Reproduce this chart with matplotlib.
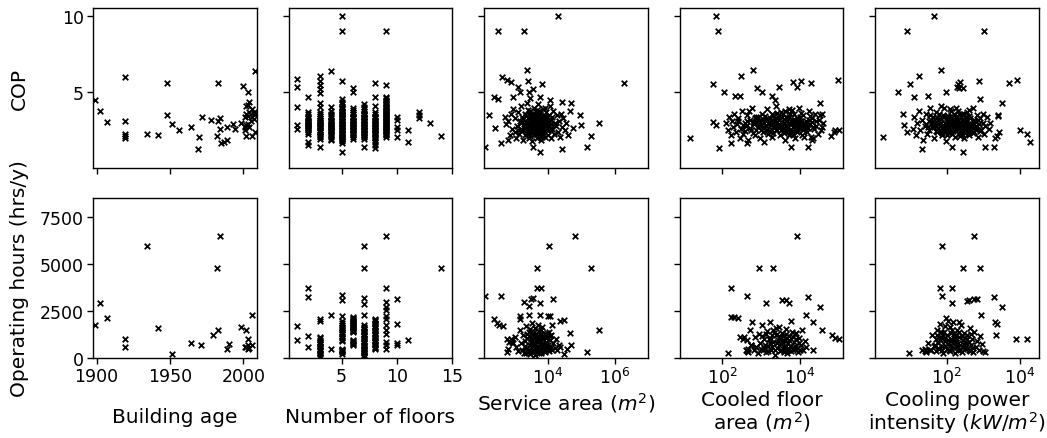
import numpy as np
import matplotlib
matplotlib.use("Agg")
import matplotlib.pyplot as plt
from matplotlib.ticker import FixedLocator, NullLocator, LogFormatterMathtext

# ---------------- data ----------------
# Panel 1: building age
age_cop_year = [1899, 1902, 1907, 1919, 1919, 1919, 1919, 1919, 1934, 1942, 1948, 1948, 1951, 1956,
                1964, 1969, 1970, 1972, 1978, 1982, 1983, 1983, 1984, 1984, 1985, 1987, 1989, 1989,
                1993, 1994, 1998, 2000, 2001, 2002, 2003, 2003, 2002, 2003, 2002, 2003, 2004, 2004,
                2006, 2006, 2006, 2007, 2007, 2007, 2008, 2008, 2008, 2002, 2004, 2005, 2001, 2001]
age_cop_val = [4.52, 3.8, 3.04, 6.02, 3.1, 2.28, 2.13, 2.0, 2.28, 2.22, 5.6, 3.52, 2.93, 2.54,
               2.76, 1.3, 2.1, 3.37, 3.2, 2.17, 5.6, 3.15, 3.3, 2.6, 1.7, 1.74, 1.85, 2.7,
               2.93, 2.57, 2.98, 5.4, 2.5, 2.17, 5.04, 2.93, 4.09, 4.17, 3.59, 3.43, 4.35, 3.7,
               3.9, 3.37, 2.17, 3.59, 3.26, 3.7, 3.6, 6.4, 2.4, 2.83, 2.74, 3.15, 3.37, 2.7]
age_hrs_year = [1899, 1902, 1907, 1919, 1919, 1934, 1942, 1951, 1964, 1971, 1979, 1982, 1983, 1984,
                1989, 1990, 1998, 2002, 2003, 2002, 2003, 2003, 2004, 2006, 2006, 2001]
age_hrs_val = [1773, 2925, 2145, 1028, 585, 5957, 1613, 195, 815, 674, 1205, 4787, 1471, 6489,
               496, 762, 1649, 1471, 1028, 585, 496, 674, 532, 2305, 674, 585]

# Panel 2: number of floors
floor_levels_cop = [1, 2, 3, 4, 5, 6, 7, 8, 9, 10, 11, 12, 13, 14]
cop_by_floor = [
    [5.87, 5.33, 4.02, 2.87, 2.61],
    [4.72, 3.7, 3.55, 3.4, 3.3, 3.2, 3.1, 3.0, 2.9, 2.8, 2.7, 2.6, 2.5, 2.4, 2.28, 1.78, 1.52,
     3.05, 2.85, 2.65],
    [6.09, 5.76, 5.48, 5.22, 4.96, 4.3, 4.02, 3.7, 3.55, 3.45, 3.3, 3.2, 3.1, 3.0, 2.9, 2.8, 2.7,
     2.55, 2.4, 2.3, 2.15, 2.05, 1.96, 1.41, 3.05, 2.85, 2.65, 2.45],
    [6.41, 4.02, 3.75, 3.6, 3.45, 3.35, 3.2, 3.1, 3.0, 2.9, 2.8, 2.7, 2.6, 2.5, 2.4, 2.3, 2.2, 2.1,
     1.96, 1.85, 3.05, 2.85, 2.65, 2.45],
    [10.0, 9.02, 5.76, 4.57, 4.35, 4.2, 4.05, 3.9, 3.8, 3.7, 3.6, 3.5, 3.4, 3.3, 3.2, 3.1, 3.0, 2.9,
     2.8, 2.7, 2.6, 2.5, 2.4, 2.3, 2.2, 2.1, 2.0, 1.9, 1.8, 1.7, 1.09,
     3.95, 3.75, 3.55, 3.35, 3.15, 2.95, 2.75, 2.55, 2.35, 2.15, 1.95],
    [5.26, 5.04, 4.0, 3.85, 3.7, 3.55, 3.4, 3.3, 3.2, 3.1, 3.0, 2.9, 2.8, 2.7, 2.6, 2.5, 2.4, 2.3,
     2.2, 2.1, 1.96, 3.35, 3.15, 2.95, 2.75, 2.55, 2.35],
    [4.2, 4.05, 3.9, 3.75, 3.6, 3.5, 3.4, 3.3, 3.2, 3.1, 3.0, 2.9, 2.8, 2.7, 2.6, 2.5, 2.4, 2.3,
     2.2, 2.1, 1.96, 1.41, 3.55, 3.35, 3.15, 2.95, 2.75, 2.55, 2.35, 2.15],
    [5.61, 4.72, 4.13, 3.7, 3.55, 3.4, 3.3, 3.2, 3.1, 3.0, 2.9, 2.8, 2.7, 2.6, 2.5, 2.4, 2.3, 2.2,
     2.1, 2.0, 1.85, 1.75, 1.52, 1.35, 3.35, 3.15, 2.95, 2.75, 2.55, 2.35],
    [9.02, 5.5, 4.7, 4.6, 4.5, 4.4, 4.3, 4.2, 4.1, 4.0, 3.9, 3.8, 3.7, 3.6, 3.5, 3.4, 3.3, 3.2, 3.1,
     3.0, 2.9, 2.8, 2.7, 2.6, 2.5, 2.4, 2.3, 2.2, 2.1,
     4.05, 3.85, 3.65, 3.45, 3.25, 3.05, 2.85, 2.65, 2.45, 2.25],
    [3.37, 3.2, 2.72, 2.5, 2.07],
    [2.5, 1.74],
    [3.7, 3.48, 3.3],
    [2.98],
    [2.17],
]
floor_levels_hrs = [1, 2, 3, 4, 5, 6, 7, 8, 9, 10, 11, 14]
hrs_by_floor = [
    [1684, 975],
    [3723, 3245, 1170, 585],
    [2092, 1950, 1117, 950, 800, 650, 500, 350, 200, 53, 1050, 875, 725, 575, 425, 275, 125],
    [2305, 496],
    [3333, 3103, 2216, 1950, 1750, 1600, 1400, 1250, 1050, 900, 500, 400, 300, 230,
     1850, 1650, 1500, 1325, 1150, 975, 450, 350],
    [2181, 2050, 1950, 1850, 1750, 1650, 1550, 1450, 1383, 940, 850, 780, 674,
     2120, 2000, 1900, 1800, 1700, 1600, 1500, 1420, 900, 720],
    [5957, 4787, 3191, 2890, 2305, 1737, 1600, 1450, 1300, 1150, 1000, 850, 700, 550, 420, 300, 180, 70,
     1670, 1525, 1375, 1225, 1075, 925, 775, 625, 480, 360, 240, 120],
    [2092, 1950, 1800, 1650, 1500, 1350, 1200, 1050, 900, 750, 600, 496,
     2020, 1875, 1725, 1575, 1425, 1275, 1125, 975, 825, 675, 550],
    [6489, 3723, 2979, 2713, 2535, 2216, 2092, 1737, 1471, 1300, 851, 674, 496],
    [3120, 1826, 815, 709],
    [940],
    [4787],
]

# Panel 3: service area (log10 of m2) vs COP / hours
service_cop_pts = [
    (2.11, 1.41), (2.21, 3.54), (2.38, 4.72), (2.48, 4.57), (2.51, 9.02), (3.29, 9.02), (4.30, 10.0),
    (2.61, 6.02), (2.76, 5.83), (2.88, 5.65), (3.09, 5.33), (3.15, 5.04), (3.37, 6.46), (3.39, 5.76),
    (3.55, 5.22), (3.82, 5.54), (3.42, 5.0), (2.96, 4.72), (3.45, 4.65), (3.77, 4.67), (4.05, 4.52),
    (4.42, 4.35), (4.70, 4.3), (6.28, 5.61), (5.53, 3.0), (5.30, 2.17), (5.16, 1.41), (4.43, 1.3),
    (3.77, 1.09), (3.55, 1.41), (2.58, 1.7), (2.41, 2.65), (2.81, 1.85), (4.95, 3.48), (4.99, 2.87),
    (4.75, 2.67),
    (2.70, 3.4), (2.75, 2.9), (2.80, 3.1), (2.85, 2.2), (2.90, 3.6), (2.92, 2.6), (2.95, 3.9),
    (3.00, 2.4), (3.02, 3.3), (3.05, 2.0), (3.08, 2.8), (3.10, 3.7), (3.12, 2.3), (3.15, 3.1),
    (3.18, 4.1), (3.20, 2.6), (3.22, 3.4), (3.25, 1.9), (3.27, 2.9), (3.30, 3.6), (3.32, 2.2),
    (3.34, 3.0), (3.36, 4.3), (3.38, 2.5), (3.40, 3.3), (3.42, 2.0), (3.44, 2.8), (3.46, 3.8),
    (3.48, 2.4), (3.50, 3.1), (3.52, 1.8), (3.53, 3.5), (3.55, 2.7), (3.57, 4.0), (3.58, 2.2),
    (3.60, 3.2), (3.62, 2.9), (3.63, 3.7), (3.65, 2.5), (3.66, 3.4), (3.68, 2.0), (3.70, 3.0),
    (3.71, 4.2), (3.72, 2.7), (3.74, 3.3), (3.75, 2.3), (3.77, 3.6), (3.78, 2.9), (3.80, 1.9),
    (3.81, 3.1), (3.83, 2.6), (3.84, 3.9), (3.86, 2.4), (3.88, 3.4), (3.90, 2.8), (3.92, 2.1),
    (3.93, 3.2), (3.95, 3.7), (3.97, 2.5), (3.98, 3.0), (4.00, 2.2), (4.02, 3.5), (4.04, 2.7),
    (4.06, 4.1), (4.08, 2.0), (4.10, 3.2), (4.12, 2.6), (4.15, 3.8), (4.18, 2.3), (4.20, 3.0),
    (4.23, 2.8), (4.26, 3.5), (4.29, 2.4), (4.32, 3.1), (4.35, 2.1), (4.38, 3.6), (4.42, 2.7),
    (4.46, 3.3), (4.50, 2.5), (4.55, 3.0), (4.60, 2.2), (4.65, 3.8), (3.35, 2.65), (3.45, 3.15),
    (3.55, 3.05), (3.65, 2.75), (3.75, 2.85), (3.85, 3.25), (3.95, 2.95), (3.60, 2.45), (3.70, 3.55),
    (3.50, 2.85), (3.80, 2.65), (3.40, 3.85), (3.90, 3.45), (3.30, 2.75), (4.00, 2.85), (3.20, 3.0),
    (4.10, 2.9), (3.10, 2.5), (3.62, 3.3), (3.72, 3.15), (3.58, 2.8), (3.68, 2.35), (3.78, 3.45),
    (3.48, 2.55), (3.88, 2.95), (3.52, 3.35), (3.82, 2.1), (3.42, 2.3), (3.92, 3.95),
    (3.22, 2.45), (3.26, 3.25), (3.31, 2.85), (3.33, 3.45), (3.37, 2.35), (3.39, 3.05), (3.41, 2.75),
    (3.43, 3.55), (3.47, 2.65), (3.49, 3.25), (3.51, 2.95), (3.54, 2.4), (3.56, 3.3), (3.59, 2.6),
    (3.61, 3.55), (3.64, 3.1), (3.67, 2.6), (3.69, 3.25), (3.73, 2.5), (3.76, 3.0), (3.79, 2.4),
    (3.82, 3.35), (3.85, 2.75), (3.87, 3.1), (3.89, 2.5), (3.91, 3.0), (3.94, 2.7), (3.96, 3.35),
    (3.99, 2.55), (4.03, 3.1), (4.07, 2.6), (4.11, 3.4), (3.57, 2.95), (3.63, 2.25), (3.66, 3.85),
    (3.71, 2.9), (3.74, 3.75), (3.46, 2.15), (3.53, 2.6), (3.77, 2.1),
]
service_hrs_pts = [
    (2.11, 3280), (2.58, 3298), (2.38, 2092), (2.46, 1862), (2.54, 1773), (2.64, 1702),
    (2.76, 1000), (2.78, 319), (2.81, 496), (2.83, 860), (2.88, 1000), (2.93, 850), (2.96, 800),
    (3.67, 4787), (3.67, 3723), (3.80, 3723), (4.02, 5957), (4.82, 6489), (5.30, 4787), (4.15, 3120),
    (3.49, 3156), (3.55, 3191), (3.75, 2943), (3.27, 2979), (3.42, 2766), (3.77, 2305), (3.15, 2216),
    (3.17, 2092), (3.42, 2305), (5.53, 1471), (5.16, 319), (4.67, 1330), (4.70, 709), (4.49, 195),
    (4.57, 496), (4.37, 1950), (4.49, 2003), (4.05, 2234), (3.99, 2234), (4.12, 1737),
    (3.00, 1100), (3.05, 600), (3.10, 350), (3.15, 1500), (3.18, 800), (3.22, 450), (3.25, 1200),
    (3.28, 250), (3.30, 900), (3.33, 1700), (3.35, 550), (3.38, 1050), (3.40, 300), (3.42, 1400),
    (3.45, 700), (3.47, 200), (3.50, 1000), (3.52, 1850), (3.54, 450), (3.56, 1250), (3.58, 800),
    (3.60, 150), (3.62, 1600), (3.64, 600), (3.66, 1100), (3.68, 350), (3.70, 900), (3.72, 1450),
    (3.74, 500), (3.76, 1200), (3.78, 250), (3.80, 750), (3.82, 1650), (3.84, 400), (3.86, 1000),
    (3.88, 600), (3.90, 1300), (3.92, 300), (3.94, 850), (3.96, 1150), (3.98, 500), (4.00, 700),
    (4.02, 1400), (4.04, 350), (4.06, 950), (4.08, 600), (4.10, 1200), (4.13, 450), (4.16, 800),
    (4.20, 550), (4.24, 1000), (4.28, 400), (4.32, 700), (4.36, 600), (3.55, 650), (3.65, 950),
    (3.75, 380), (3.85, 820), (3.45, 1550), (3.95, 1050), (3.35, 250), (3.70, 1780), (3.60, 1050),
    (3.80, 1300), (3.50, 480),
    (3.31, 650), (3.37, 1250), (3.43, 420), (3.49, 850), (3.53, 1350), (3.57, 300), (3.61, 750),
    (3.63, 1250), (3.67, 520), (3.71, 1150), (3.73, 280), (3.77, 900), (3.79, 1500), (3.83, 620),
    (3.87, 350), (3.89, 1150), (3.93, 700), (3.97, 1350), (4.01, 480), (4.05, 1150), (3.59, 1400),
    (3.69, 650), (3.81, 1050), (3.91, 500), (3.47, 1150),
]

# Panel 4: cooled floor area (log10 of m2)
cooled_cop_pts = [
    (1.17, 2.02), (1.84, 10.0), (1.91, 9.02), (1.76, 5.54), (2.04, 5.04), (1.93, 1.35), (1.78, 3.04),
    (1.86, 2.83), (2.23, 1.7), (2.49, 6.04), (2.79, 6.46), (2.34, 4.74), (2.47, 4.74), (2.90, 5.26),
    (3.03, 5.04), (3.47, 5.35), (3.83, 5.65), (4.02, 5.76), (3.93, 5.33), (4.28, 5.61), (4.97, 5.83),
    (3.29, 4.74), (3.35, 4.52), (4.52, 4.3), (4.56, 3.59), (4.56, 2.72), (4.34, 2.0), (4.30, 1.89),
    (4.20, 1.41), (3.78, 1.41), (3.07, 1.74), (2.64, 1.7), (4.79, 2.13), (4.86, 2.39), (4.91, 2.5),
    (4.99, 2.54),
    (2.10, 3.0), (2.15, 2.5), (2.18, 3.4), (2.22, 2.2), (2.25, 3.1), (2.28, 2.7), (2.32, 3.6),
    (2.35, 2.4), (2.38, 2.9), (2.42, 3.3), (2.45, 2.0), (2.48, 2.6), (2.52, 3.8), (2.55, 2.3),
    (2.58, 3.0), (2.62, 2.8), (2.65, 3.5), (2.68, 1.9), (2.72, 3.2), (2.75, 2.5), (2.78, 4.0),
    (2.82, 2.9), (2.85, 2.2), (2.88, 3.4), (2.92, 2.7), (2.95, 3.1), (2.98, 2.0), (3.02, 3.6),
    (3.05, 2.4), (3.08, 3.0), (3.12, 2.8), (3.15, 3.9), (3.18, 2.3), (3.22, 3.3), (3.25, 2.6),
    (3.28, 2.1), (3.32, 3.5), (3.35, 2.9), (3.38, 4.1), (3.42, 2.5), (3.45, 3.2), (3.48, 2.2),
    (3.52, 3.7), (3.55, 2.8), (3.58, 3.0), (3.62, 1.9), (3.65, 3.4), (3.68, 2.6), (3.72, 3.9),
    (3.75, 2.3), (3.78, 3.1), (3.82, 2.7), (3.85, 3.6), (3.88, 2.0), (3.92, 3.3), (3.95, 2.5),
    (3.98, 4.0), (4.02, 2.9), (4.05, 2.2), (4.08, 3.5), (4.12, 2.7), (4.15, 3.1), (4.18, 2.4),
    (4.22, 3.8), (4.25, 2.9), (4.28, 2.1), (4.32, 3.3), (4.35, 2.6), (4.38, 3.6), (4.42, 2.8),
    (4.45, 2.3), (4.48, 3.2), (4.52, 3.5), (4.55, 2.5), (4.58, 3.0), (2.40, 3.15), (2.60, 2.45),
    (2.70, 3.75), (2.80, 2.35), (2.90, 3.05), (3.00, 2.55), (3.10, 3.45), (3.20, 2.95), (3.30, 2.35),
    (3.40, 3.65), (3.50, 2.75), (3.60, 3.25), (3.70, 2.45), (3.80, 3.85), (3.90, 2.85), (4.00, 3.35),
    (4.10, 2.05), (4.20, 2.65), (4.30, 3.05), (3.25, 3.1), (3.35, 2.7), (3.45, 2.95), (3.55, 3.4),
    (3.65, 2.85), (3.75, 3.55), (3.85, 2.95), (3.95, 3.15), (4.05, 2.75), (3.15, 2.55), (3.05, 3.25),
    (2.95, 2.85), (2.85, 3.3), (3.62, 2.45), (3.72, 3.0), (3.82, 2.25), (3.92, 2.95), (4.02, 3.65),
    (3.48, 3.45), (3.58, 2.35), (3.68, 3.15), (3.78, 2.55), (3.88, 3.2), (3.98, 2.65), (3.38, 2.85),
    (3.28, 3.55), (3.18, 3.0), (4.15, 2.85), (4.25, 3.45), (4.40, 3.1), (3.42, 3.05), (3.52, 2.5),
    (3.62, 3.8), (3.72, 2.2), (3.92, 2.4),
    (2.55, 2.85), (2.63, 3.15), (2.71, 2.65), (2.79, 3.05), (2.87, 2.55), (2.93, 3.35), (3.01, 2.85),
    (3.09, 2.65), (3.13, 3.25), (3.21, 2.45), (3.27, 2.85), (3.33, 3.15), (3.39, 2.55), (3.43, 3.35),
    (3.47, 2.75), (3.53, 3.05), (3.57, 2.6), (3.63, 3.1), (3.67, 2.7), (3.71, 3.35), (3.77, 2.9),
    (3.81, 3.2), (3.87, 2.6), (3.91, 3.0), (3.97, 2.85), (4.03, 3.15), (4.07, 2.5), (4.13, 3.0),
    (4.19, 2.75), (4.23, 3.2), (3.37, 3.25), (3.57, 3.55), (3.83, 2.45), (3.05, 2.75), (2.83, 3.0),
    (4.33, 2.75),
]
cooled_hrs_pts = [
    (2.15, 266), (2.23, 3723), (2.23, 2181), (2.32, 2181), (2.41, 2127), (2.64, 3298), (2.95, 4787),
    (3.31, 4787), (3.93, 6489), (3.12, 2943), (3.55, 3103), (3.64, 3103), (3.72, 2925), (4.20, 3245),
    (4.52, 2713), (4.16, 2305), (4.34, 1915), (4.56, 1471), (4.82, 1206), (4.91, 1064), (4.99, 993),
    (4.34, 443), (2.45, 1117), (2.53, 993), (2.57, 1117), (2.64, 355), (2.66, 460), (2.88, 585),
    (2.75, 674),
    (2.62, 450), (2.65, 950), (2.68, 300), (2.72, 1500), (2.75, 700), (2.78, 1900), (2.82, 400),
    (2.85, 1100), (2.88, 600), (2.92, 250), (2.95, 1300), (2.98, 800), (3.02, 1750), (3.05, 450),
    (3.08, 1000), (3.12, 300), (3.15, 1450), (3.18, 650), (3.22, 1900), (3.25, 400), (3.28, 1200),
    (3.32, 850), (3.35, 150), (3.38, 1600), (3.42, 550), (3.45, 1050), (3.48, 350), (3.52, 750),
    (3.55, 1350), (3.58, 500), (3.62, 900), (3.65, 1550), (3.68, 250), (3.72, 1150), (3.75, 650),
    (3.78, 1950), (3.82, 400), (3.85, 850), (3.88, 1250), (3.92, 550), (3.95, 300), (3.98, 1050),
    (4.02, 700), (4.05, 1500), (4.08, 450), (4.12, 900), (4.15, 600), (3.30, 1500), (3.40, 800),
    (3.50, 1100), (3.60, 300), (3.70, 800), (3.80, 1400), (3.90, 1000), (4.00, 400), (3.10, 700),
    (3.20, 1000), (3.00, 500), (3.45, 1650), (3.65, 650), (3.85, 550),
    (3.03, 1150), (3.09, 550), (3.13, 1250), (3.19, 350), (3.23, 800), (3.29, 600), (3.33, 1350),
    (3.37, 450), (3.41, 1250), (3.47, 700), (3.51, 400), (3.57, 1150), (3.61, 650), (3.63, 1250),
    (3.69, 450), (3.73, 950), (3.77, 350), (3.81, 1100), (3.87, 650), (3.91, 1350), (3.97, 800),
    (3.53, 900), (3.43, 950), (3.67, 1050), (3.27, 1000),
]

# Panel 5: cooling power intensity (log10 of kW/m2)
intensity_cop_pts = [
    (0.27, 2.07), (0.68, 5.04), (0.92, 9.02), (1.67, 10.0), (3.02, 9.02), (1.01, 5.54), (1.24, 6.04),
    (1.12, 4.72), (1.49, 4.74), (1.86, 6.46), (1.99, 5.04), (2.28, 5.35), (2.35, 5.26), (2.46, 5.3),
    (2.32, 5.54), (2.37, 5.65), (2.89, 5.76), (3.70, 5.61), (3.91, 5.83), (3.50, 4.3), (3.41, 3.5),
    (3.41, 3.43), (3.44, 2.39), (3.37, 2.17), (3.32, 2.0), (3.28, 1.41), (3.05, 1.41), (2.46, 1.09),
    (4.00, 2.54), (4.18, 2.28), (4.27, 1.74), (1.33, 1.3), (2.14, 1.41), (0.81, 3.59), (0.85, 2.87),
    (0.92, 2.39), (2.90, 4.57),
    (1.08, 2.6), (1.12, 3.4), (1.16, 2.2), (1.20, 3.0), (1.24, 3.8), (1.28, 2.5), (1.32, 3.2),
    (1.36, 1.9), (1.40, 2.8), (1.44, 3.6), (1.48, 2.3), (1.52, 3.1), (1.56, 4.0), (1.60, 2.7),
    (1.63, 3.4), (1.66, 2.0), (1.69, 2.9), (1.72, 3.7), (1.75, 2.4), (1.78, 3.2), (1.81, 2.8),
    (1.84, 4.1), (1.87, 2.2), (1.90, 3.5), (1.93, 2.6), (1.96, 3.0), (1.99, 1.8), (2.02, 3.3),
    (2.05, 2.7), (2.08, 3.9), (2.11, 2.4), (2.14, 3.1), (2.17, 2.9), (2.20, 3.6), (2.23, 2.1),
    (2.26, 3.4), (2.29, 2.6), (2.32, 3.8), (2.35, 2.3), (2.38, 3.0), (2.41, 2.8), (2.44, 3.5),
    (2.47, 2.0), (2.50, 3.2), (2.53, 2.5), (2.56, 3.7), (2.59, 2.9), (2.62, 2.2), (2.65, 3.3),
    (2.68, 2.7), (2.71, 4.0), (2.74, 2.4), (2.77, 3.1), (2.80, 2.6), (2.83, 3.5), (2.86, 2.1),
    (2.89, 2.9), (2.92, 3.3), (2.95, 2.5), (2.98, 3.0), (3.02, 2.3), (3.06, 2.8), (3.10, 3.4),
    (3.15, 2.6), (3.18, 3.0), (1.50, 2.75), (1.60, 3.05), (1.70, 2.45), (1.80, 3.55), (1.90, 2.85),
    (2.00, 3.15), (2.10, 2.55), (2.20, 3.25), (2.30, 2.95), (2.40, 3.35), (2.50, 2.65), (2.60, 3.45),
    (2.70, 2.85), (2.80, 3.05), (2.90, 2.45), (3.00, 3.6), (1.85, 3.0), (1.95, 2.5), (2.05, 3.45),
    (2.15, 2.25), (2.25, 2.85), (2.35, 3.6), (2.45, 2.45), (2.55, 3.1), (2.65, 2.6), (1.75, 3.3),
    (1.65, 2.7), (1.55, 3.5), (1.45, 2.9), (2.12, 3.75), (2.22, 2.65), (2.32, 3.15), (2.42, 2.25),
    (2.52, 2.95), (2.62, 3.85), (2.72, 2.35), (1.98, 2.75), (2.08, 3.05), (2.18, 2.45), (2.28, 3.45),
    (2.38, 2.7), (2.48, 3.55), (2.58, 2.4), (1.88, 2.35), (1.78, 2.9), (2.02, 2.2), (2.36, 2.15),
    (2.46, 3.0), (2.76, 3.2), (2.16, 3.3), (1.92, 4.0), (2.26, 3.95),
    (1.52, 2.55), (1.58, 3.2), (1.64, 2.85), (1.71, 3.05), (1.77, 2.65), (1.83, 3.25), (1.89, 2.75),
    (1.94, 3.35), (1.97, 2.45), (2.03, 2.95), (2.07, 2.65), (2.13, 2.85), (2.19, 3.1), (2.24, 2.55),
    (2.27, 3.15), (2.31, 2.75), (2.34, 3.0), (2.39, 2.5), (2.43, 3.2), (2.49, 2.8), (2.54, 3.35),
    (2.57, 2.75), (2.63, 3.0), (2.67, 2.45), (2.73, 3.15), (2.79, 2.8), (2.85, 3.2), (2.88, 2.6),
    (2.12, 3.45), (2.21, 2.9), (2.41, 3.6), (2.06, 2.35), (1.86, 2.55), (2.51, 2.35), (2.61, 2.75),
]
intensity_hrs_pts = [
    (0.99, 266), (1.87, 5957), (2.75, 6489), (2.46, 4787), (2.90, 4787), (1.81, 3723), (2.14, 3723),
    (1.87, 3298), (2.14, 2943), (2.57, 3014), (2.60, 3103), (2.75, 3120), (2.84, 3120), (3.28, 3245),
    (3.50, 2713), (2.94, 2305), (3.32, 1915), (3.37, 1826), (3.35, 1206), (3.89, 993), (4.18, 993),
    (3.05, 319), (1.33, 450), (1.40, 380),
    (1.40, 500), (1.45, 300), (1.50, 800), (1.55, 450), (1.60, 1200), (1.65, 650), (1.70, 1000),
    (1.72, 350), (1.75, 1500), (1.78, 800), (1.80, 500), (1.83, 1800), (1.85, 1100), (1.88, 650),
    (1.90, 250), (1.92, 1400), (1.95, 900), (1.98, 2100), (2.00, 500), (2.02, 1200), (2.05, 750),
    (2.08, 1650), (2.10, 350), (2.12, 1000), (2.15, 600), (2.18, 1900), (2.20, 1300), (2.22, 250),
    (2.25, 850), (2.28, 1500), (2.30, 450), (2.33, 1100), (2.36, 700), (2.40, 1750), (2.42, 300),
    (2.45, 950), (2.48, 1350), (2.50, 550), (2.53, 800), (2.56, 1200), (2.60, 400), (2.63, 1600),
    (2.66, 700), (2.70, 1000), (2.73, 300), (2.76, 1400), (2.80, 600), (2.84, 900), (2.88, 450),
    (2.92, 1150), (2.96, 750), (3.00, 350), (1.95, 1700), (2.05, 1950), (2.15, 1500), (2.25, 1050),
    (2.35, 1900), (1.85, 1400), (2.45, 600), (2.55, 1000), (2.65, 350), (1.68, 700), (1.58, 400),
    (2.28, 650),
    (1.73, 1200), (1.77, 550), (1.81, 950), (1.87, 400), (1.91, 1150), (1.97, 650), (2.03, 950),
    (2.07, 400), (2.11, 1350), (2.17, 800), (2.21, 550), (2.27, 1200), (2.31, 800), (2.37, 400),
    (2.41, 1150), (2.47, 750), (2.51, 1050), (2.57, 500), (2.61, 850), (2.67, 1250), (2.71, 550),
    (2.19, 1050), (2.09, 700), (1.93, 1000), (2.35, 1400),
]

xlabels = ["\nBuilding age", "\nNumber of floors", "Service area ($m^2$)",
           "Cooled floor\narea ($m^2$)", "Cooling power\nintensity ($kW/m^2$)"]
ylabels = ["COP", "Operating hours (hrs/y)"]

# ---------------- plotting ----------------
plt.rcParams['font.family'] = ['DejaVu Sans']
fig, axes = plt.subplots(2, 5, figsize=(10.47, 4.39), dpi=100, sharex='col', sharey='row')
fig.subplots_adjust(left=0.0888, right=0.9924, top=0.9795, bottom=0.1822,
                    wspace=0.195, hspace=0.1875)

mk = dict(marker='x', color='black', s=16, linewidths=1.3)

def unzip(pts):
    a = np.array(pts, dtype=float)
    return a[:, 0], a[:, 1]

# column 1
axes[0, 0].scatter(age_cop_year, age_cop_val, **mk)
axes[1, 0].scatter(age_hrs_year, age_hrs_val, **mk)
# column 2
fx = np.concatenate([[f] * len(v) for f, v in zip(floor_levels_cop, cop_by_floor)])
fy = np.concatenate(cop_by_floor)
axes[0, 1].scatter(fx, fy, **mk)
hx = np.concatenate([[f] * len(v) for f, v in zip(floor_levels_hrs, hrs_by_floor)])
hy = np.concatenate(hrs_by_floor)
axes[1, 1].scatter(hx, hy, **mk)
# log columns
for col, (ptop, pbot) in zip([2, 3, 4], [(service_cop_pts, service_hrs_pts),
                                         (cooled_cop_pts, cooled_hrs_pts),
                                         (intensity_cop_pts, intensity_hrs_pts)]):
    x, y = unzip(ptop)
    axes[0, col].scatter(np.power(10.0, x), y, **mk)
    x, y = unzip(pbot)
    axes[1, col].scatter(np.power(10.0, x), y, **mk)

for c in range(2, 5):
    axes[1, c].set_xscale('log')

axes[0, 0].set_ylim(0.05, 10.5)
axes[1, 0].set_ylim(0, 8500)
axes[0, 0].set_yticks([5, 10])
axes[1, 0].set_yticks([0, 2500, 5000, 7500])

axes[1, 0].set_xlim(1897.5, 2009)
axes[1, 0].set_xticks([1900, 1950, 2000])
axes[1, 1].set_xlim(0.2, 15)
axes[1, 1].set_xticks([5, 10, 15])
axes[1, 2].set_xlim(120, 1e7)
axes[1, 3].set_xlim(8.3, 1.3e5)
axes[1, 4].set_xlim(1.15, 3.3e4)
for c, ticks in zip([2, 3, 4], [[1e4, 1e6], [1e2, 1e4], [1e2, 1e4]]):
    axes[1, c].xaxis.set_major_locator(FixedLocator(ticks))
    axes[1, c].xaxis.set_minor_locator(NullLocator())
    axes[1, c].xaxis.set_major_formatter(LogFormatterMathtext())

for ax in axes.flat:
    ax.tick_params(labelsize=12.5, length=4, width=1, pad=2.5)
    for s in ax.spines.values():
        s.set_linewidth(1.0)

for c in range(5):
    axes[1, c].set_xlabel(xlabels[c], fontsize=14.5, linespacing=1.0, labelpad=2)
for r in range(2):
    axes[r, 0].set_ylabel(ylabels[r], fontsize=14.5)
    axes[r, 0].yaxis.set_label_coords(-0.39, 0.5)

fig.savefig("out.png", dpi=100)
